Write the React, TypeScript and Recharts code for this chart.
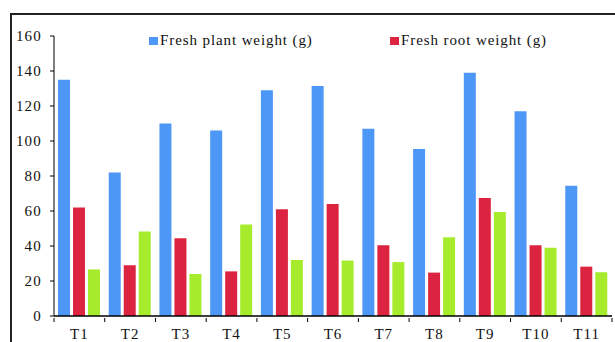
import { Bar, BarChart, XAxis, YAxis } from "recharts";

const categories = ["T1", "T2", "T3", "T4", "T5", "T6", "T7", "T8", "T9", "T10", "T11"];
const plantWeight = [135, 82, 110, 106, 129, 131.5, 107, 95.5, 139, 117, 74.5];
const rootWeight = [62, 29, 44.5, 25.5, 61, 64, 40.5, 24.8, 67.5, 40.5, 28.2];
const dryWeight = [26.6, 48.3, 24, 52.3, 32, 31.7, 30.8, 45, 59.5, 39, 25];
const yTicks = [0, 20, 40, 60, 80, 100, 120, 140, 160];

const chartData = categories.map((c, i) => ({
  name: c,
  plant: plantWeight[i],
  root: rootWeight[i],
  dry: dryWeight[i]
}));

const W = 615;
const H = 342;
const PLOT_LEFT = 54;
const PLOT_RIGHT = 612;
const BAND = (PLOT_RIGHT - PLOT_LEFT) / categories.length;
const font = "'Liberation Serif', 'Times New Roman', serif";

function XTick(props: any) {
  const { x, y, payload, index } = props;
  const last = index === categories.length - 1;
  return (
    <g>
      <line x1={x - BAND / 2} x2={x - BAND / 2} y1={y - 6} y2={y - 2} stroke="#000" />
      {last && <line x1={x + BAND / 2} x2={x + BAND / 2} y1={y - 6} y2={y - 2} stroke="#000" />}
      <text x={x} y={y + 15} textAnchor="middle" fontFamily={font} fontSize={15} letterSpacing={1} fill="#111">
        {payload.value}
      </text>
    </g>
  );
}

function LegendBox() {
  const item = (color: string, label: string, left: number) => (
    <div style={{ position: "absolute", left, top: 0, display: "flex", alignItems: "center" }}>
      <span style={{ width: 9, height: 8, background: color, marginRight: 2 }} />
      <span style={{ fontFamily: font, fontSize: 15, letterSpacing: 0.9, color: "#111" }}>{label}</span>
    </div>
  );
  return (
    <div style={{ position: "absolute", top: 32, left: 0, width: W, height: 18 }}>
      {item("#4d97f7", "Fresh plant weight (g)", 149)}
      {item("#dc2440", "Fresh root weight (g)", 390)}
    </div>
  );
}

export default function App() {
  return (
    <div style={{ position: "fixed", left: 0, top: 0, width: W, height: H, background: "#fff", overflow: "hidden" }}>
      <div
        style={{
          position: "absolute",
          left: 10,
          top: 13,
          width: W,
          height: H,
          borderLeft: "2px solid #222",
          borderTop: "2px solid #222"
        }}
      />
      <BarChart
        width={W}
        height={H}
        data={chartData}
        margin={{ top: 36, right: W - PLOT_RIGHT, left: 10, bottom: 0 }}
        barSize={12}
        barGap={3}
        style={{ position: "absolute", left: 0, top: 0 }}
      >
        <YAxis
          width={44}
          domain={[0, 160]}
          ticks={yTicks}
          interval={0}
          axisLine={{ stroke: "#000" }}
          tickLine={{ stroke: "#000" }}
          tickSize={4}
          tickMargin={8}
          tick={{ fontFamily: font, fontSize: 15, letterSpacing: 1.2, fill: "#111" }}
        />
        <XAxis
          dataKey="name"
          height={26}
          interval={0}
          axisLine={{ stroke: "#000", strokeWidth: 1.5 }}
          tickLine={false}
          tick={<XTick />}
        />
        <Bar dataKey="plant" fill="#4d97f7" isAnimationActive={false} />
        <Bar dataKey="root" fill="#dc2440" isAnimationActive={false} />
        <Bar dataKey="dry" fill="#a6ec2c" isAnimationActive={false} />
      </BarChart>
      <LegendBox />
    </div>
  );
}
